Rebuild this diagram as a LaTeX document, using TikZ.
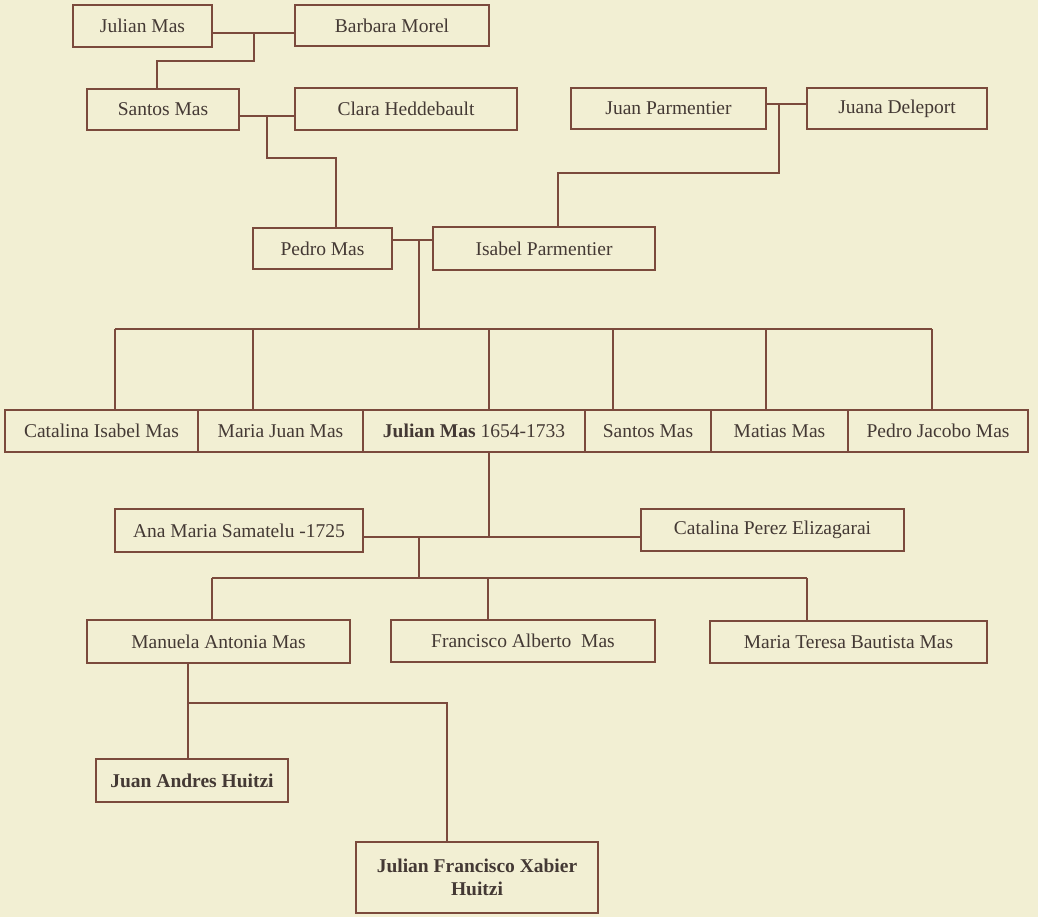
\documentclass[tikz,border=0pt]{standalone}
\usepackage{fontspec}
\setmainfont{Liberation Serif}
\definecolor{paper}{HTML}{F2EFD3}
\definecolor{ink}{HTML}{7B4A3C}
\definecolor{txt}{HTML}{443934}
\tikzset{
    person/.style={draw=ink, line width=1.3pt, fill=paper, text=txt, inner sep=2pt,
        font=\fontsize{19.5}{23}\selectfont},
    link/.style={draw=ink, line width=1.3pt}
}
\begin{document}
\begin{tikzpicture}[x=1pt, y=-1pt]
        \fill[paper] (0,0) rectangle (1038,917);
        \useasboundingbox (0,0) rectangle (1038,917);
        % grandparents
        \node[person, minimum width=139pt, minimum height=42pt] (julianA) at (142.5,26) {Julian Mas};
        \node[person, minimum width=194pt, minimum height=41pt] (barbara) at (392,25.5) {Barbara Morel};
        \node[person, minimum width=152pt, minimum height=41pt] (santosA) at (163,109.5) {Santos Mas};
        \node[person, minimum width=222pt, minimum height=42pt] (clara) at (406,109) {Clara Heddebault};
        \node[person, minimum width=195pt, minimum height=41pt] (juanP) at (668.5,108.5) {Juan Parmentier};
        \node[person, minimum width=180pt, minimum height=41pt] (juana) at (897,108.5) {Juana Deleport};
        % parents
        \node[person, minimum width=139pt, minimum height=41pt] (pedro) at (322.5,248.5) {Pedro Mas};
        \node[person, minimum width=222pt, minimum height=43pt] (isabel) at (544,248.5) {Isabel Parmentier};
        % children
        \node[person, minimum width=193pt, minimum height=42pt] (catalinaI) at (101.5,431) {Catalina Isabel Mas};
        \node[person, minimum width=165pt, minimum height=42pt] (mariaJ) at (280.5,431) {Maria Juan Mas};
        \node[person, minimum width=222pt, minimum height=42pt] (julianB) at (474,431) {\textbf{Julian Mas} 1654-1733};
        \node[person, minimum width=126pt, minimum height=42pt] (santosB) at (648,431) {Santos Mas};
        \node[person, minimum width=137pt, minimum height=42pt] (matias) at (779.5,431) {Matias Mas};
        \node[person, minimum width=180pt, minimum height=42pt] (pedroJ) at (938,431) {Pedro Jacobo Mas};
        % wives
        \node[person, minimum width=248pt, minimum height=43pt] (ana) at (239,530.5) {Ana Maria Samatelu -1725};
        \node[person, minimum width=263pt, minimum height=42pt] (catalinaP) at (772.5,530) {Catalina Perez Elizagarai};
        % next generation
        \node[person, minimum width=263pt, minimum height=43pt] (manuela) at (218.5,641.5) {Manuela Antonia Mas};
        \node[person, minimum width=264pt, minimum height=42pt] (francisco) at (523,641) {Francisco Alberto\ \ Mas};
        \node[person, minimum width=277pt, minimum height=42pt] (mariaT) at (848.5,642) {Maria Teresa Bautista\ Mas};
        \node[person, minimum width=192pt, minimum height=43pt] (juanA) at (192,780.5) {\textbf{Juan Andres Huitzi}};
        \node[person, minimum width=242pt, minimum height=71pt, align=center] (julianF) at (477,877.5)
            {\textbf{Julian Francisco Xabier}\\\textbf{Huitzi}};
        % marriages and descent
        \coordinate (m1) at (254,33);
        \coordinate (m2) at (267,116);
        \coordinate (m3) at (779,104);
        \coordinate (m4) at (419,240);
        \coordinate (m5) at (419,537);
        \draw[link] (julianA.east |- m1) -- (barbara.west |- m1);
        \draw[link] (m1) -- ++(0,28) -| ([xshift=-6pt]santosA.north);
        \draw[link] (santosA.east |- m2) -- (clara.west |- m2);
        \draw[link] (m2) -- ++(0,42) -| ([xshift=13.5pt]pedro.north);
        \draw[link] (juanP.east |- m3) -- (juana.west |- m3);
        \draw[link] (m3) -- ++(0,69) -| ([xshift=14pt]isabel.north);
        \draw[link] (pedro.east |- m4) -- (isabel.west |- m4);
        \draw[link] (m4) -- ++(0,89) coordinate (bar);
        \draw[link] (bar -| 115,0) -- (bar -| 932,0);
        \foreach \n/\x in {catalinaI/115, mariaJ/253, julianB/489, santosB/613, matias/766, pedroJ/932} {
            \draw[link] (bar -| \x,0) -- (\n.north -| \x,0);
        }
        \draw[link] (ana.east |- m5) -- (catalinaP.west |- m5);
        \draw[link] ([xshift=15pt]julianB.south) -- (m5 -| 489,0);
        \draw[link] (m5) -- ++(0,41) coordinate (bar2);
        \draw[link] (bar2 -| 212,0) -- (bar2 -| 807,0);
        \foreach \n/\x in {manuela/212, francisco/488, mariaT/807} {
            \draw[link] (bar2 -| \x,0) -- (\n.north -| \x,0);
        }
        \coordinate (bar3) at (188,703);
        \draw[link] (manuela.south -| bar3) -- (juanA.north -| bar3);
        \draw[link] (bar3) -- (bar3 -| 447,0) -- ([xshift=-30pt]julianF.north);
\end{tikzpicture}
\end{document}
